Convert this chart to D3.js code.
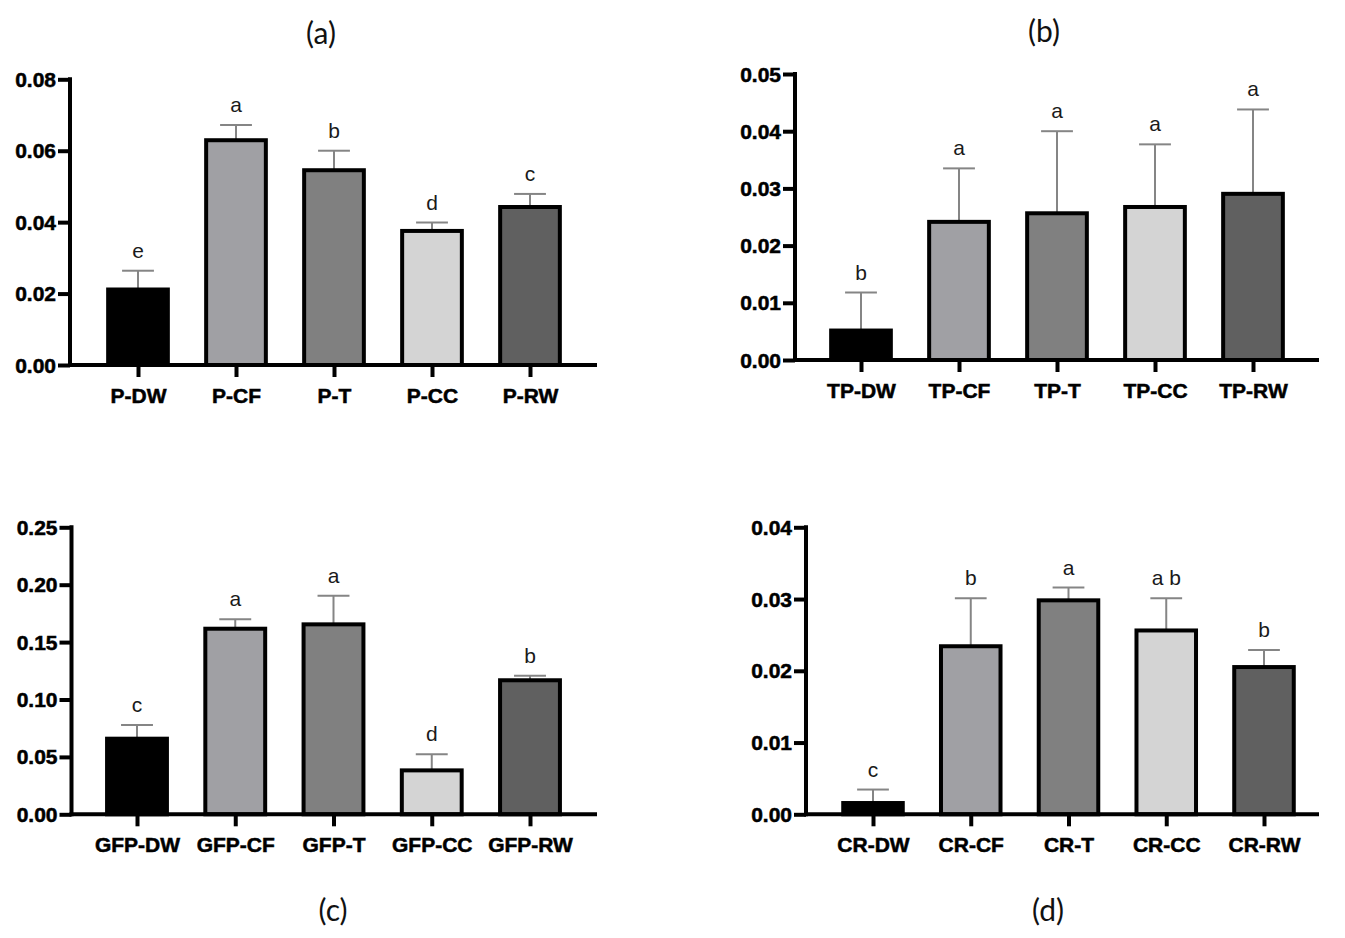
<!DOCTYPE html>
<html>
<head>
<meta charset="utf-8">
<script src="https://cdn.jsdelivr.net/npm/d3@7"></script>
<style>
  html, body { margin: 0; padding: 0; background: #fff; }
  svg { display: block; }
</style>
</head>
<body>
<svg id="chart" width="1345" height="938"></svg>
<script>
// ---------- DATA ----------
const categoriesA = ["P-DW", "P-CF", "P-T", "P-CC", "P-RW"];
const valuesA = [0.0217, 0.0635, 0.0551, 0.0381, 0.0448];
const errorsA = [0.0047, 0.0037, 0.0049, 0.0018, 0.0031];
const lettersA = ["e", "a", "b", "d", "c"];
const ticksA = [0, 0.02, 0.04, 0.06, 0.08];

const categoriesB = ["TP-DW", "TP-CF", "TP-T", "TP-CC", "TP-RW"];
const valuesB = [0.0055, 0.0245, 0.0260, 0.0271, 0.0294];
const errorsB = [0.0063, 0.0090, 0.0140, 0.0106, 0.0144];
const lettersB = ["b", "a", "a", "a", "a"];
const ticksB = [0, 0.01, 0.02, 0.03, 0.04, 0.05];

const categoriesC = ["GFP-DW", "GFP-CF", "GFP-T", "GFP-CC", "GFP-RW"];
const valuesC = [0.0676, 0.1634, 0.1672, 0.0400, 0.1185];
const errorsC = [0.0102, 0.0066, 0.0232, 0.0123, 0.0022];
const lettersC = ["c", "a", "a", "d", "b"];
const ticksC = [0, 0.05, 0.10, 0.15, 0.20, 0.25];

const categoriesD = ["CR-DW", "CR-CF", "CR-T", "CR-CC", "CR-RW"];
const valuesD = [0.00185, 0.0237, 0.0301, 0.0259, 0.0208];
const errorsD = [0.0016, 0.0064, 0.0015, 0.0042, 0.0021];
const lettersD = ["c", "b", "a", "a b", "b"];
const ticksD = [0, 0.01, 0.02, 0.03, 0.04];

const panelTitles = ["(a)", "(b)", "(c)", "(d)"];
const barColors = ["#000000", "#a0a0a4", "#808080", "#d4d4d4", "#606060"];

// ---------- LAYOUT ----------
const layouts = [
  { cats: categoriesA, vals: valuesA, errs: errorsA, lets: lettersA, ticks: ticksA,
    axisX: 70, axisEnd: 597, yTop: 79.3, yBot: 365, c0: 138, c1: 530, tx: 321, ty: 43 },
  { cats: categoriesB, vals: valuesB, errs: errorsB, lets: lettersB, ticks: ticksB,
    axisX: 795, axisEnd: 1319, yTop: 74, yBot: 360, c0: 861, c1: 1253, tx: 1044, ty: 41 },
  { cats: categoriesC, vals: valuesC, errs: errorsC, lets: lettersC, ticks: ticksC,
    axisX: 71.5, axisEnd: 597, yTop: 527.3, yBot: 814.3, c0: 137, c1: 530, tx: 333, ty: 920 },
  { cats: categoriesD, vals: valuesD, errs: errorsD, lets: lettersD, ticks: ticksD,
    axisX: 806, axisEnd: 1319, yTop: 527.3, yBot: 814.3, c0: 873, c1: 1264, tx: 1048, ty: 920 }
];

const SX = 1.05; // slight horizontal stretch of the source lettering
const FONT = "'Liberation Sans', Arial, Helvetica, sans-serif";
const svg = d3.select("#chart");
svg.append("rect").attr("width", 1345).attr("height", 938).attr("fill", "#fff");

layouts.forEach((L, pi) => {
  const g = svg.append("g");
  const yMax = L.ticks[L.ticks.length - 1];
  const y = d3.scaleLinear().domain([0, yMax]).range([L.yBot, L.yTop]);
  const x = d3.scalePoint().domain(L.cats).range([L.c0, L.c1]).padding(0);
  const bw = x.step() * 0.65;
  const data = L.cats.map((c, i) => ({ c, v: L.vals[i], e: L.errs[i], l: L.lets[i], col: barColors[i] }));

  // error bars (behind bars)
  const eg = g.append("g").attr("stroke", "#858585").attr("stroke-width", 2).attr("fill", "none");
  data.forEach(d => {
    eg.append("line").attr("x1", x(d.c)).attr("x2", x(d.c)).attr("y1", y(d.v) + 2).attr("y2", y(d.v + d.e));
    eg.append("line").attr("x1", x(d.c) - bw / 4).attr("x2", x(d.c) + bw / 4)
      .attr("y1", y(d.v + d.e)).attr("y2", y(d.v + d.e));
  });

  // bars
  g.append("g").selectAll("rect").data(data).join("rect")
    .attr("x", d => x(d.c) - bw / 2 + 2)
    .attr("y", d => y(d.v) + 2)
    .attr("width", bw - 4)
    .attr("height", d => Math.max(0, y(0) - y(d.v) - 2))
    .attr("fill", d => d.col)
    .attr("stroke", "#000")
    .attr("stroke-width", 4);

  // significance letters
  g.append("g").selectAll("text").data(data).join("text")
    .attr("transform", d => `translate(${x(d.c)},${y(d.v + d.e) - 13}) scale(${SX},1)`)
    .attr("text-anchor", "middle")
    .attr("font-family", FONT)
    .attr("font-size", 20)
    .attr("fill", "#1a1a1a")
    .text(d => d.l);

  // y axis
  const ya = g.append("g").attr("transform", `translate(${L.axisX},0)`)
    .call(d3.axisLeft(y).tickValues(L.ticks).tickFormat(d3.format(".2f")).tickSize(12).tickSizeOuter(0));
  ya.select(".domain").attr("stroke", "#000").attr("stroke-width", 4)
    .attr("d", `M0,${L.yTop - 2}V${L.yBot + 2}`);
  ya.selectAll(".tick line").attr("stroke", "#000").attr("stroke-width", 4);
  ya.selectAll(".tick text")
    .attr("x", null).attr("dy", null)
    .attr("transform", `translate(-14,7) scale(${SX},1)`)
    .attr("font-family", FONT)
    .attr("font-weight", "bold")
    .attr("font-size", 20)
    .attr("fill", "#000")
    .attr("stroke", "#000").attr("stroke-width", 0.5);

  // x axis
  const xa = g.append("g").attr("transform", `translate(0,${L.yBot})`)
    .call(d3.axisBottom(x).tickSize(12).tickSizeOuter(0));
  xa.select(".domain").attr("stroke", "#000").attr("stroke-width", 4)
    .attr("d", `M${L.axisX - 2},0H${L.axisEnd}`);
  xa.selectAll(".tick line").attr("stroke", "#000").attr("stroke-width", 4);
  xa.selectAll(".tick text")
    .attr("y", null).attr("dy", null)
    .attr("transform", `translate(0,38) scale(${SX},1)`)
    .attr("font-family", FONT)
    .attr("font-weight", "bold")
    .attr("font-size", 20)
    .attr("fill", "#000")
    .attr("stroke", "#000").attr("stroke-width", 0.5);

  // panel title
  svg.append("text")
    .attr("transform", `translate(${L.tx},${L.ty + 1})`)
    .attr("text-anchor", "middle")
    .attr("font-family", "Lato, 'Open Sans', sans-serif")
    .attr("font-size", 30)
    .attr("fill", "#111")
    .text(panelTitles[pi]);
});
</script>
</body>
</html>
